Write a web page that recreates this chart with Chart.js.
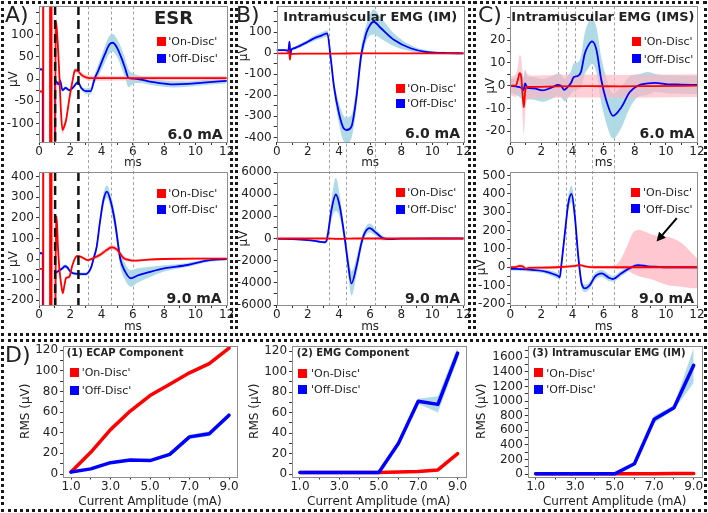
<!DOCTYPE html>
<html><head><meta charset="utf-8">
<script src="https://cdn.jsdelivr.net/npm/chart.js@4.4.0/dist/chart.umd.min.js"></script>
<style>
body{margin:0;width:708px;height:513px;background:#fff;position:relative;overflow:hidden;font-family:'DejaVu Sans',sans-serif;color:#222}
.box{position:absolute;border:3px dotted #1a1a1a;box-sizing:border-box}
canvas{position:absolute}
.t{position:absolute;white-space:nowrap;line-height:1;color:#222}
.sq{position:absolute;width:9px;height:9px}
</style></head><body>
<div class="box" style="left:1px;top:1px;width:232px;height:335px"></div>
<div class="box" style="left:235px;top:1px;width:236px;height:335px"></div>
<div class="box" style="left:473px;top:1px;width:234px;height:335px"></div>
<div class="box" style="left:1px;top:339px;width:706px;height:173px"></div>
<script>
// ---------------- tick values ----------------
const msTicks = [0,1,2,3,4,5,6,7,8,9,10,11,12];
const msLabels = [0,2,4,6,8,10,12];
const ampTicks = [1,2,3,4,5,6,7,8,9];
const ampLabels = [1,3,5,7,9];
const yMajA1 = [-100,-50,0,50,100], yMinA1 = [-125,-75,-25,25,75,125,150];
const yMajA2 = [-200,-100,0,100,200,300,400], yMinA2 = [-150,-50,50,150,250,350];
const yMajB1 = [-400,-300,-200,-100,0,100], yMinB1 = [-350,-250,-150,-50,50,150,200];
const yMajB2 = [-6000,-4000,-2000,0,2000,4000,6000], yMinB2 = [-5000,-3000,-1000,1000,3000,5000];
const yMajC1 = [-20,-10,0,10,20], yMinC1 = [-15,-5,5,15,25,30];
const yMajC2 = [-200,-100,0,100,200,300,400,500], yMinC2 = [-150,-50,50,150,250,350,450];
const yMajD12 = [0,20,40,60,80,100,120], yMinD12 = [10,30,50,70,90,110];
const yMajD3 = [0,200,400,600,800,1000,1200,1400,1600], yMinD3 = [100,300,500,700,900,1100,1300,1500,1700];

// marker positions (ms)
const grayA = [3.12,4.62,6.0], blackA = [1.03,2.52];
const grayB = [3.35,4.45,6.3];
const grayC = [3.07,3.6,4.14,5.25,6.66];

// ---------------- A) ESR 6.0 mA ----------------
const tA1on = [0,0.26,0.27,0.28,0.70,0.71,0.80,0.81,1.00,1.04,1.09,1.20,1.30,1.40,1.50,1.60,1.73,1.94,2.15,2.30,2.50,2.70,3.00,3.50,4.00,5.00,6.00,8.00,10.0,12.0];
const vA1on = [-28,-28,2000,-2000,-2000,2000,2000,-2000,-2000,-150,130,80,10,-70,-115,-108,-93,-44,-3,20,18,10,4,2,2,2,2,2,2,2];
const sA1on = [3,3,0,0,0,0,0,0,0,0,10,10,10,10,10,10,8,8,6,6,6,6,6,6,6,5,5,5,5,5];
const tA1off = [0,0.24,0.25,1.02,1.03,1.10,1.25,1.35,1.50,1.70,1.95,2.20,2.40,2.50,2.70,3.00,3.30,3.55,3.80,4.20,4.50,4.72,5.00,5.30,5.50,5.73,6.00,6.50,7.00,8.00,8.60,9.50,10.5,12.0];
const vA1off = [22,22,-2000,-2000,-5,-5,-12,-3,-25,-20,-25,-18,-9,-7,-20,-27,-27,0,20,55,78,82,70,45,25,2,1,-1,-5,-10,-12,-11,-8,-4];
const sA1off = [4,4,0,0,0,4,4,4,4,4,4,4,4,4,5,6,8,10,14,18,20,20,20,22,22,20,12,8,7,7,7,6,6,6];

// ---------------- A) ESR 9.0 mA ----------------
const tA2on = [0,0.26,0.27,0.28,0.70,0.71,0.80,0.81,1.00,1.05,1.13,1.21,1.31,1.41,1.52,1.62,1.73,1.94,2.10,2.25,2.46,2.65,2.90,3.10,3.50,3.90,4.30,4.66,5.00,5.40,5.80,6.05,7.00,8.00,10.0,12.0];
const vA2on = [-48,-48,3000,-3000,-3000,3000,3000,-3000,-3000,-250,205,60,-53,-117,-165,-130,-92,-86,-40,-5,15,12,2,-5,5,20,42,57,45,5,-5,-8,-3,0,2,2];
const sA2on = [4,4,0,0,0,0,0,0,0,0,10,10,10,10,10,10,8,8,8,6,6,6,6,6,8,10,12,12,12,10,8,6,5,5,5,5];
const tA2off = [0,0.24,0.25,1.02,1.04,1.10,1.30,1.50,1.65,1.80,2.00,2.20,2.50,3.00,3.20,3.35,3.48,3.69,3.90,4.12,4.34,4.60,4.87,5.20,5.50,5.88,6.30,7.10,8.00,9.50,10.75,12.0];
const vA2off = [28,28,-3000,-3000,-60,-65,-55,-45,-35,-40,-60,-70,-72,-73,-60,-37,0,60,181,286,327,275,173,0,-60,-94,-80,-62,-45,-29,-8,0];
const sA2off = [5,5,0,0,0,8,8,8,8,8,8,8,8,8,10,12,15,20,25,30,30,35,40,40,40,40,35,25,15,10,8,5];

// ---------------- B) IM 6.0 mA ----------------
const tB1on = [0,0.70,0.80,0.85,0.90,1.00,1.50,3.00,4.50,6.00,8.00,10.0,12.0];
const vB1on = [0,0,12,-30,-5,-3,-2,-2,-1,0,0,0,0];
const sB1on = [3,3,4,6,4,3,3,3,3,3,3,3,3];
const tB1off = [0,0.50,0.75,0.82,0.88,0.95,1.05,1.35,2.00,2.40,2.90,3.25,3.46,3.68,4.00,4.30,4.50,4.80,5.10,5.43,5.75,6.00,6.22,6.70,7.55,8.60,9.70,11.0,12.0];
const vB1off = [15,15,12,55,-5,18,22,31,55,71,85,95,-16,-159,-285,-357,-365,-349,-222,-8,95,135,150,119,63,24,5,1,0];
const sB1off = [5,5,5,5,5,5,5,8,10,12,15,15,20,30,50,60,60,55,50,40,40,50,60,50,30,15,8,5,5];

// ---------------- B) IM 9.0 mA ----------------
const tB2on = [0,1,2,3,3.6,4.0,4.4,5,6,8,10,12];
const vB2on = [0,0,0,0,-20,-40,-20,0,0,0,0,0];
const sB2on = [40,40,40,40,80,120,80,40,40,40,40,40];
const tB2off = [0,1.0,2.0,2.66,3.09,3.20,3.30,3.52,3.80,4.05,4.37,4.58,4.80,5.12,5.44,5.65,5.97,6.40,6.82,7.25,8.0,10.0,12.0];
const vB2off = [-30,-60,-150,-270,-340,-200,490,2600,3970,2900,30,-2240,-4050,-2550,-420,490,945,490,30,-60,-20,0,0];
const sB2off = [30,40,60,80,100,150,400,900,1500,1000,600,900,1100,800,500,400,400,300,200,100,50,30,30];

// ---------------- C) IMS 6.0 mA ----------------
const tC1on = [0,0.35,0.50,0.60,0.70,0.78,0.87,0.95,1.05,1.50,3.00,5.00,7.00,9.00,12.0];
const vC1on = [0,0,3,5.5,4,-3,-9.5,-3,-0.5,-0.5,-0.3,-0.2,-0.3,-0.2,0];
const sC1on = [4,5,6,8,8,10,12,10,6,5,5,5,5,5,5];
const tC1off = [0,0.50,0.75,0.85,0.95,1.10,1.50,2.07,2.60,3.04,3.26,3.47,3.69,3.90,4.07,4.33,4.55,4.78,5.00,5.25,5.53,5.85,6.17,6.60,7.14,7.68,8.20,8.86,9.30,10.15,11.0,12.0];
const vC1off = [0,-0.5,-1.2,-2,1,-1,-1.2,-2.1,-1,0.3,0,-1.8,-0.5,1.2,3.7,4.3,6.2,14,17.5,19.5,16,2.5,-6.5,-13.3,-9.5,-2.8,0,1,1.2,0.6,0.5,0.3];
const sC1off = [3,4,5,6,6,5,5,5,5,5,5,5,5,5,6,6,7,9,10,10,10,10,10,10,9,7,5,5,4,4,4,4];

// ---------------- C) IMS 9.0 mA ----------------
const tC2on = [0,0.40,0.60,0.80,1.00,1.20,2.00,3.00,4.20,4.50,4.80,5.50,7.00,9.00,12.0];
const vC2on = [0,2,7,5,-8,-3,-2,0,8,12,5,0,0,0,0];
const sC2on = [8,8,10,10,10,8,8,8,8,8,8,8,8,8,8];
const tC2off = [0,1.00,2.27,2.80,3.07,3.18,3.27,3.53,3.73,3.94,4.15,4.37,4.58,4.80,5.12,5.44,5.87,6.30,6.60,7.14,7.68,8.20,8.86,9.50,10.0,12.0];
const vC2off = [-8,-12,-24,-38,-48,-55,3,204,350,400,277,58,-87,-115,-97,-51,-33,-55,-64,-33,-5,12,5,2,0,0];
const sC2off = [10,10,12,15,15,15,20,30,40,45,40,30,25,20,20,20,20,20,15,15,12,10,8,6,6,6];
const tC2cloud = [6.70,7.00,7.45,7.90,8.30,8.80,9.20,10.1,11.0,11.9,12.0];
const hiC2cloud = [8,30,104,190,204,190,176,167,133,58,50];
const loC2cloud = [-8,-10,-15,-35,-51,-60,-69,-97,-106,-115,-115];
const arrowC2 = [10.7,268,9.4,140];

// ---------------- D) RMS vs current ----------------
const amps = [1,2,3,4,5,6,7,8,9];
const ecapOn = [2,21,43,61,76,87,98,107,122];
const ecapOnSd = [0.5,0.8,1,1,1,1,1,1.2,1.5];
const ecapOff = [2,5,11,13.5,13,19,36,39,57];
const ecapOffSd = [0.5,0.7,1,1,1,1.5,2,2.5,2.5];
const emgOn = [1.5,1.5,1.5,1.5,1.5,2,2.5,4,20];
const emgOnSd = [0.3,0.3,0.3,0.3,0.3,0.3,0.4,0.5,1];
const emgOff = [1.5,1.5,1.5,1.5,1.5,30,71,68,118];
const emgOffSd = [0.3,0.3,0.3,0.3,0.3,1.5,2.5,8,6];
const imOn = [3,3,3,3,3,4,5,6,8];
const imOnSd = [0,0,0,0,0,0,0,0,0];
const imOff = [2,2,2,2,2,140,750,910,1490];
const imOffSd = [0,0,0,0,0,10,50,30,240];

// ---------------- helpers ----------------
const FONT = "'DejaVu Sans', sans-serif";
const TXT = '#222';
const PINK = 'rgba(255,182,193,0.65)';
const LBLUE = 'rgba(173,216,230,0.95)';
const RED = '#ff0000', BLUE = '#0000ff';

function pts(t, v, s, k) { return t.map((x, i) => ({x, y: v[i] + k * s[i]})); }
function bandDS(t, v, s, color, mono, order) {
  const base = {borderWidth: 0, pointRadius: 0, backgroundColor: color, borderColor: 'rgba(0,0,0,0)', order};
  if (mono) base.cubicInterpolationMode = 'monotone';
  return [
    Object.assign({data: pts(t, v, s, 1), fill: false}, base),
    Object.assign({data: pts(t, v, s, -1), fill: '-1'}, base)
  ];
}
function hiLoDS(t, hi, lo, color, order) {
  const base = {borderWidth: 0, pointRadius: 0, backgroundColor: color, borderColor: 'rgba(0,0,0,0)', cubicInterpolationMode: 'monotone', order};
  return [
    Object.assign({data: t.map((x, i) => ({x, y: hi[i]})), fill: false}, base),
    Object.assign({data: t.map((x, i) => ({x, y: lo[i]})), fill: '-1'}, base)
  ];
}
function lineDS(t, v, color, w, mono, order) {
  const d = {data: t.map((x, i) => ({x, y: v[i]})), borderColor: color, borderWidth: w, pointRadius: 0, fill: false, borderJoinStyle: 'round', borderCapStyle: 'round', order};
  if (mono) d.cubicInterpolationMode = 'monotone';
  return d;
}
function makeDeco(cfg) {
  return {
    id: 'deco',
    beforeDatasetsDraw(chart) {
      const {ctx, chartArea: a, scales: {x}} = chart;
      if (cfg.gray) {
        ctx.save(); ctx.strokeStyle = '#a3a3a3'; ctx.lineWidth = 1; ctx.setLineDash([3, 2.5]);
        const y0 = cfg.grayFrom - cfg.canvas[1], y1 = cfg.grayTo - cfg.canvas[1];
        for (const t of cfg.gray) {
          const px = Math.round(x.getPixelForValue(t)) + 0.5;
          ctx.beginPath(); ctx.moveTo(px, y0); ctx.lineTo(px, y1); ctx.stroke();
        }
        ctx.restore();
      }
    },
    afterDatasetsDraw(chart) {
      const {ctx, chartArea: a, scales: {x, y}} = chart;
      if (cfg.black) {
        ctx.save(); ctx.strokeStyle = '#111'; ctx.lineWidth = 2.5; ctx.setLineDash([9, 5]);
        for (const t of cfg.black) {
          const px = x.getPixelForValue(t);
          ctx.beginPath(); ctx.moveTo(px, a.top); ctx.lineTo(px, a.bottom); ctx.stroke();
        }
        ctx.restore();
      }
      if (cfg.arrow) {
        const [t0, v0, t1, v1] = cfg.arrow;
        const x0 = x.getPixelForValue(t0), y0 = y.getPixelForValue(v0);
        const x1 = x.getPixelForValue(t1), y1 = y.getPixelForValue(v1);
        const ang = Math.atan2(y1 - y0, x1 - x0), L = 9, W = 4.5;
        const bx = x1 - L * Math.cos(ang), by = y1 - L * Math.sin(ang);
        ctx.save(); ctx.strokeStyle = '#000'; ctx.fillStyle = '#000'; ctx.lineWidth = 2;
        ctx.beginPath(); ctx.moveTo(x0, y0); ctx.lineTo(bx, by); ctx.stroke();
        ctx.beginPath(); ctx.moveTo(x1, y1);
        ctx.lineTo(bx + W * Math.sin(ang), by - W * Math.cos(ang));
        ctx.lineTo(bx - W * Math.sin(ang), by + W * Math.cos(ang));
        ctx.closePath(); ctx.fill(); ctx.restore();
      }
      ctx.save(); ctx.strokeStyle = '#8e8e8e'; ctx.lineWidth = 1;
      ctx.strokeRect(Math.round(a.left) + 0.5, Math.round(a.top) + 0.5, Math.round(a.right) - Math.round(a.left), Math.round(a.bottom) - Math.round(a.top));
      ctx.restore();
      if (cfg.uvX) {
        ctx.save(); ctx.fillStyle = TXT; ctx.font = '12px ' + FONT; ctx.textAlign = 'center'; ctx.textBaseline = 'middle';
        ctx.translate(cfg.uvX - cfg.canvas[0], y.getPixelForValue(0)); ctx.rotate(-Math.PI / 2);
        ctx.fillText('μV', 0, 0); ctx.restore();
      }
    }
  };
}
function makeChart(cfg) {
  const cv = document.createElement('canvas');
  const [cx, cy, cw, ch] = cfg.canvas;
  cv.width = cw; cv.height = ch;
  Object.assign(cv.style, {left: cx + 'px', top: cy + 'px', width: cw + 'px', height: ch + 'px'});
  document.body.appendChild(cv);
  const [al, at, ar, ab] = cfg.area;
  const yW = al - cx, xH = cy + ch - ab;
  const yTicks = cfg.ymaj.concat(cfg.ymin).sort((p, q) => p - q);
  const f12 = {family: FONT, size: 12};
  const gridOpt = {drawOnChartArea: false, drawTicks: true, tickLength: 3, color: '#333', tickColor: '#333', lineWidth: 1};
  new Chart(cv, {
    type: 'line',
    data: {datasets: cfg.datasets},
    options: {
      responsive: false, animation: false, devicePixelRatio: 1, events: [],
      layout: {padding: {left: 0, top: at - cy, right: cx + cw - ar, bottom: 0}},
      plugins: {legend: {display: false}, tooltip: {enabled: false}},
      scales: {
        x: {
          type: 'linear', min: cfg.xr[0], max: cfg.xr[1],
          afterBuildTicks: s => { s.ticks = cfg.xt.map(v => ({value: v})); },
          afterFit: s => { s.height = xH; s.paddingLeft = 0; s.paddingRight = 0; },
          ticks: {autoSkip: false, maxRotation: 0, padding: cfg.xpad, color: TXT, font: f12,
                  callback: v => cfg.xl.includes(v) ? cfg.xfmt(v) : ''},
          grid: gridOpt, border: {display: false},
          title: {display: true, text: cfg.xtitle, color: TXT, font: f12, padding: {top: 0, bottom: cfg.xtpad}}
        },
        y: {
          type: 'linear', min: cfg.yr[0], max: cfg.yr[1],
          afterBuildTicks: s => { s.ticks = yTicks.map(v => ({value: v})); },
          afterFit: s => { s.width = yW; s.paddingTop = 0; s.paddingBottom = 0; },
          ticks: {autoSkip: false, padding: 2, color: TXT, font: f12,
                  callback: v => cfg.ymaj.includes(v) ? String(v) : ''},
          grid: gridOpt, border: {display: false},
          title: cfg.ytitle ? {display: true, text: cfg.ytitle, color: TXT, font: f12, padding: {top: cfg.ytpad, bottom: 0}} : {display: false}
        }
      }
    },
    plugins: [makeDeco(cfg)]
  });
}
function wave(canvas, area, yr, ymaj, ymin, uvX, gray, grayFrom, grayTo, sets, extra) {
  const [tOn, vOn, sOn, tOff, vOff, sOff] = sets;
  let ds = [].concat(bandDS(tOff, vOff, sOff, LBLUE, true, 4), bandDS(tOn, vOn, sOn, PINK, true, 3));
  if (extra && extra.cloud) ds = ds.concat(extra.cloud);
  ds.push(lineDS(tOff, vOff, BLUE, 1.8, true, 1));
  ds.push(lineDS(tOn, vOn, RED, 1.8, true, 0));
  const bottom = canvas[1] > 100;
  makeChart(Object.assign({
    canvas, area, yr, ymaj, ymin, uvX, gray, grayFrom, grayTo,
    xr: [0, 12], xt: msTicks, xl: msLabels, xfmt: v => String(v), xpad: 0,
    xtitle: 'ms', xtpad: bottom ? 0 : 1, datasets: ds
  }, extra || {}));
}
function rms(canvas, area, yr, ymaj, ymin, ytpad, on, onSd, off, offSd) {
  const ds = [].concat(bandDS(amps, on, onSd, PINK, false, 3), bandDS(amps, off, offSd, LBLUE, false, 2));
  ds.push(lineDS(amps, on, RED, 3.5, false, 1));
  ds.push(lineDS(amps, off, BLUE, 3.5, false, 0));
  makeChart({canvas, area, yr, ymaj, ymin, xr: [0.6, 9.4], xt: ampTicks, xl: ampLabels, xfmt: v => v.toFixed(1),
             xpad: 0, xtitle: 'Current Amplitude (mA)', xtpad: 1, ytitle: 'RMS (μV)', ytpad, datasets: ds});
}

// ---------------- charts ----------------
wave([4,0,232,171], [39,6,226.7,142], [-142,165], yMajA1, yMinA1, 14, grayA, 6, 171,
     [tA1on, vA1on, sA1on, tA1off, vA1off, sA1off], {black: blackA});
wave([4,160,232,174], [39,172,226.7,305], [-223,422], yMajA2, yMinA2, 14, grayA, 171, 305,
     [tA2on, vA2on, sA2on, tA2off, vA2off, sA2off], {black: blackA});
wave([236,0,236,171], [276.7,6,463.5,142], [-422,225], yMajB1, yMinB1, 244, grayB, 6, 171,
     [tB1on, vB1on, sB1on, tB1off, vB1off, sB1off]);
wave([236,160,236,174], [276.7,172,463.5,305], [-6000,6000], yMajB2, yMinB2, 244, grayB, 171, 305,
     [tB2on, vB2on, sB2on, tB2off, vB2off, sB2off]);
wave([474,0,234,171], [510.3,6,697,142], [-24.8,35.1], yMajC1, yMinC1, 491, grayC, 6, 171,
     [tC1on, vC1on, sC1on, tC1off, vC1off, sC1off]);
wave([474,160,234,174], [510.3,172,697,305], [-206,520], yMajC2, yMinC2, 482, grayC, 171, 305,
     [tC2on, vC2on, sC2on, tC2off, vC2off, sC2off],
     {cloud: hiLoDS(tC2cloud, hiC2cloud, loC2cloud, 'rgba(255,182,193,0.75)', 2), arrow: arrowC2});

rms([4,340,236,170], [63.1,346,236.9,476.5], [-2.4,124], yMajD12, yMinD12, 14.8, ecapOn, ecapOnSd, ecapOff, ecapOffSd);
rms([242,340,228,170], [292.1,346,465.5,476.5], [-2.4,125], yMajD12, yMinD12, 5.8, emgOn, emgOnSd, emgOff, emgOffSd);
rms([473,340,232,170], [527.8,346,701.6,476.5], [-34,1755], yMajD3, yMinD3, 1.8, imOn, imOnSd, imOff, imOffSd);

// ---------------- text overlays ----------------
function txt(s, x, cy, size, bold, right) {
  const d = document.createElement('div'); d.className = 't'; d.textContent = s;
  d.style.fontSize = size + 'px'; if (bold) d.style.fontWeight = 'bold';
  d.style.top = (cy - 0.48 * size) + 'px';
  if (right) d.style.right = (708 - x) + 'px'; else d.style.left = x + 'px';
  document.body.appendChild(d);
}
function legend(sqX, txtX, cyOn, cyOff) {
  [[cyOn, RED, "'On-Disc'"], [cyOff, BLUE, "'Off-Disc'"]].forEach(([cy, c, s]) => {
    const q = document.createElement('div'); q.className = 'sq';
    Object.assign(q.style, {left: sqX + 'px', top: (cy - 4.5) + 'px', background: c});
    document.body.appendChild(q);
    txt(s, txtX, cy, 11, false, false);
  });
}
txt('A)', 5, 15, 22, false, false);
txt('B)', 236, 15, 22, false, false);
txt('C)', 478, 15, 22, false, false);
txt('D)', 5, 355, 22, false, false);
txt('ESR', 154, 17.8, 18, true, false);
txt('Intramuscular EMG (IM)', 283.3, 15.8, 13, true, false);
txt('Intramuscular EMG (IMS)', 511.3, 15.8, 13, true, false);
txt('6.0 mA', 222.7, 133.3, 14, true, true);
txt('9.0 mA', 221.7, 297.5, 14, true, true);
txt('6.0 mA', 460, 132.5, 14, true, true);
txt('9.0 mA', 460, 297.5, 14, true, true);
txt('6.0 mA', 694.7, 132.5, 14, true, true);
txt('9.0 mA', 694, 297.5, 14, true, true);
legend(156.7, 168.3, 41.3, 58.3);
legend(156.7, 168.3, 193, 209);
legend(395.7, 407.3, 88, 103.3);
legend(395.7, 407.3, 192.2, 209.2);
legend(632, 643.7, 41.5, 58.8);
legend(631.3, 643, 192.2, 208.8);
legend(70, 81.7, 372.5, 390.2);
legend(298.3, 311, 373, 389);
legend(534, 546.3, 372.8, 389.2);
txt('(1) ECAP Component', 66.7, 352.5, 10, true, false);
txt('(2) EMG Component', 296.7, 352.5, 10, true, false);
txt('(3) Intramuscular EMG (IM)', 532.3, 352.5, 10, true, false);
</script>
</body></html>
